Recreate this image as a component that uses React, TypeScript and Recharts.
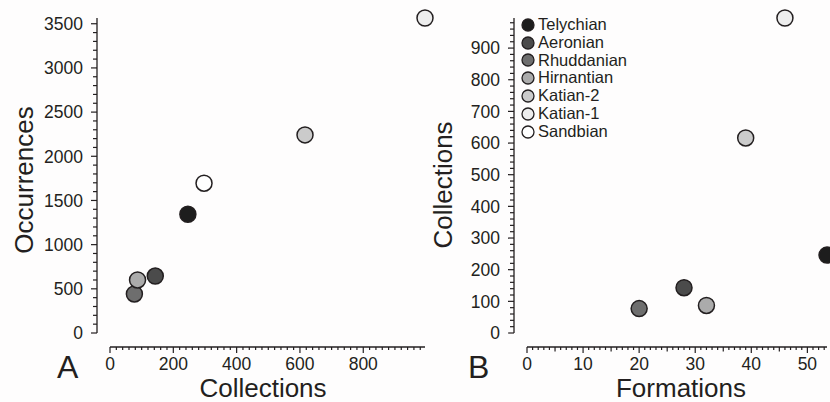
import React from "react";
import { ScatterChart, Scatter, XAxis, YAxis, Legend } from "recharts";

// Stage order also sets the legend order
const stages = ["Telychian", "Aeronian", "Rhuddanian", "Hirnantian", "Katian-2", "Katian-1", "Sandbian"];
const collections = [246, 143, 77, 87, 616, 995, 297];
const occurrences = [1344, 645, 442, 600, 2242, 3565, 1695];
const formations: (number | null)[] = [53.5, 28, 20, 32, 39, 46, null];

const occurrenceTicks = [0, 500, 1000, 1500, 2000, 2500, 3000, 3500];
const collectionTicksA = [0, 200, 400, 600, 800];
const collectionTicksB = [0, 100, 200, 300, 400, 500, 600, 700, 800, 900];
const formationTicks = [0, 10, 20, 30, 40, 50];

const stageFills = ["#1d1d1d", "#4b4b4b", "#6e6e6e", "#ababab", "#cbcbcb", "#ededed", "#ffffff"];

const INK = "#231f20";
const FONT = "'Liberation Sans', Arial, Helvetica, sans-serif";

// unlabelled minor tick positions, every `step` up to `max`
const minorTicks = (max: number, step: number) => {
  const out: number[] = [];
  for (let i = 0; i * step <= max + 1e-9; i++) out.push(+(i * step).toFixed(4));
  return out;
};

const leftTick = (labels: number[]) => (props: any) => {
  const { x, y, payload } = props;
  const major = labels.includes(payload.value);
  return (
    <g>
      <line x1={x} x2={x - (major ? 6 : 4)} y1={y} y2={y} stroke={INK} strokeWidth={1.2} />
      {major && (
        <text x={x - 14} y={y} dy="0.36em" textAnchor="end" fontSize={17.5} fill={INK} fontFamily={FONT}>
          {payload.value}
        </text>
      )}
    </g>
  );
};

const bottomTick = (labels: number[], mid: number[] = []) => (props: any) => {
  const { x, y, payload } = props;
  const major = labels.includes(payload.value);
  const len = major ? 6 : mid.includes(payload.value) ? 4.5 : 3;
  return (
    <g>
      <line x1={x} x2={x} y1={y} y2={y + len} stroke={INK} strokeWidth={1.2} />
      {major && (
        <text x={x} y={y + 23} textAnchor="middle" fontSize={17.5} fill={INK} fontFamily={FONT}>
          {payload.value}
        </text>
      )}
    </g>
  );
};

const YTitle = ({ text, bx, cy }: any) => (
  <text
    x={bx}
    y={cy}
    transform={`rotate(-90 ${bx} ${cy})`}
    textAnchor="middle"
    fontSize={26}
    fill={INK}
    fontFamily={FONT}
  >
    {text}
  </text>
);

const XTitle = ({ text, cx, letter, lx }: any) => (
  <g fontFamily={FONT} fill={INK}>
    <text x={cx} y={397} textAnchor="middle" fontSize={26}>
      {text}
    </text>
    <text x={lx} y={378} fontSize={32}>
      {letter}
    </text>
  </g>
);

const dot = (fill: string) => (p: any) => (
  <circle cx={p.cx} cy={p.cy} r={8} fill={fill} stroke={INK} strokeWidth={1.5} />
);

// legend rows follow stage order, not alphabetical
const StageLegend = ({ payload }: any) => {
  const rows = [...(payload || [])].sort((a: any, b: any) => stages.indexOf(a.value) - stages.indexOf(b.value));
  return (
    <div style={{ fontFamily: FONT, fontSize: 16.5, color: INK }}>
      {rows.map((e: any) => (
        <div key={e.value} style={{ display: "flex", alignItems: "center", height: 17.8 }}>
          <svg width={14} height={14}>
            <circle cx={7} cy={7} r={6} fill={e.color} stroke={INK} strokeWidth={1.3} />
          </svg>
          <span style={{ marginLeft: 3.5, lineHeight: "17.8px" }}>{e.value}</span>
        </div>
      ))}
    </div>
  );
};

const axisLine = { stroke: INK, strokeWidth: 1.3 };

export default function App() {
  return (
    <div
      style={{
        position: "absolute",
        left: 0,
        top: 0,
        width: 830,
        height: 402,
        overflow: "hidden",
        background: "#fefdfd",
      }}
    >
      {/* A: occurrences vs collections */}
      <div style={{ position: "absolute", left: 0, top: 0 }}>
        <ScatterChart width={440} height={402} margin={{ top: 18, right: 15, bottom: 0, left: 14 }}>
          <XAxis xAxisId="gap" type="number" domain={[0, 1]} height={14} axisLine={false} tickLine={false} tick={false} />
          <XAxis
            xAxisId="val"
            dataKey="x"
            type="number"
            domain={[0, "dataMax"]}
            height={55}
            ticks={minorTicks(980, 20)}
            interval={0}
            tickSize={0}
            tickMargin={0}
            tickLine={false}
            axisLine={axisLine}
            tick={bottomTick(collectionTicksA)}
            label={<XTitle text="Collections" cx={263} letter="A" lx={57} />}
          />
          <YAxis yAxisId="gap" type="number" domain={[0, 1]} width={13} axisLine={false} tickLine={false} tick={false} />
          <YAxis
            yAxisId="val"
            dataKey="y"
            type="number"
            domain={[0, "dataMax"]}
            width={83}
            ticks={minorTicks(3500, 100)}
            interval={0}
            tickSize={0}
            tickMargin={0}
            tickLine={false}
            axisLine={axisLine}
            tick={leftTick(occurrenceTicks)}
            label={<YTitle text="Occurrences" bx={33} cy={180} />}
          />
          {stages.map((s, i) => (
            <Scatter
              key={s}
              name={s}
              xAxisId="val"
              yAxisId="val"
              data={[{ x: collections[i], y: occurrences[i] }]}
              fill={stageFills[i]}
              shape={dot(stageFills[i])}
              isAnimationActive={false}
            />
          ))}
        </ScatterChart>
      </div>

      {/* B: collections vs formations */}
      <div style={{ position: "absolute", left: 415, top: 0 }}>
        <ScatterChart width={430} height={402} margin={{ top: 18, right: 18, bottom: 0, left: 14 }}>
          <XAxis xAxisId="gap" type="number" domain={[0, 1]} height={14} axisLine={false} tickLine={false} tick={false} />
          <XAxis
            xAxisId="val"
            dataKey="x"
            type="number"
            domain={[0, "dataMax"]}
            height={55}
            ticks={minorTicks(53, 1)}
            interval={0}
            tickSize={0}
            tickMargin={0}
            tickLine={false}
            axisLine={axisLine}
            tick={bottomTick(formationTicks, [5, 15, 25, 35, 45])}
            label={<XTitle text="Formations" cx={266} letter="B" lx={53} />}
          />
          <YAxis yAxisId="gap" type="number" domain={[0, 1]} width={13} axisLine={false} tickLine={false} tick={false} />
          <YAxis
            yAxisId="val"
            dataKey="y"
            type="number"
            domain={[0, "dataMax"]}
            width={85}
            ticks={minorTicks(980, 20)}
            interval={0}
            tickSize={0}
            tickMargin={0}
            tickLine={false}
            axisLine={axisLine}
            tick={leftTick(collectionTicksB)}
            label={<YTitle text="Collections" bx={37} cy={185} />}
          />
          {stages.map((s, i) => (
            <Scatter
              key={s}
              name={s}
              xAxisId="val"
              yAxisId="val"
              data={formations[i] == null ? [] : [{ x: formations[i], y: collections[i] }]}
              fill={stageFills[i]}
              shape={dot(stageFills[i])}
              isAnimationActive={false}
            />
          ))}
          <Legend
            layout="vertical"
            align="center"
            verticalAlign="middle"
            itemSorter={null as any}
            wrapperStyle={{ left: 105.5, top: 16, width: "auto", height: "auto" }}
            content={<StageLegend />}
          />
        </ScatterChart>
      </div>
    </div>
  );
}
